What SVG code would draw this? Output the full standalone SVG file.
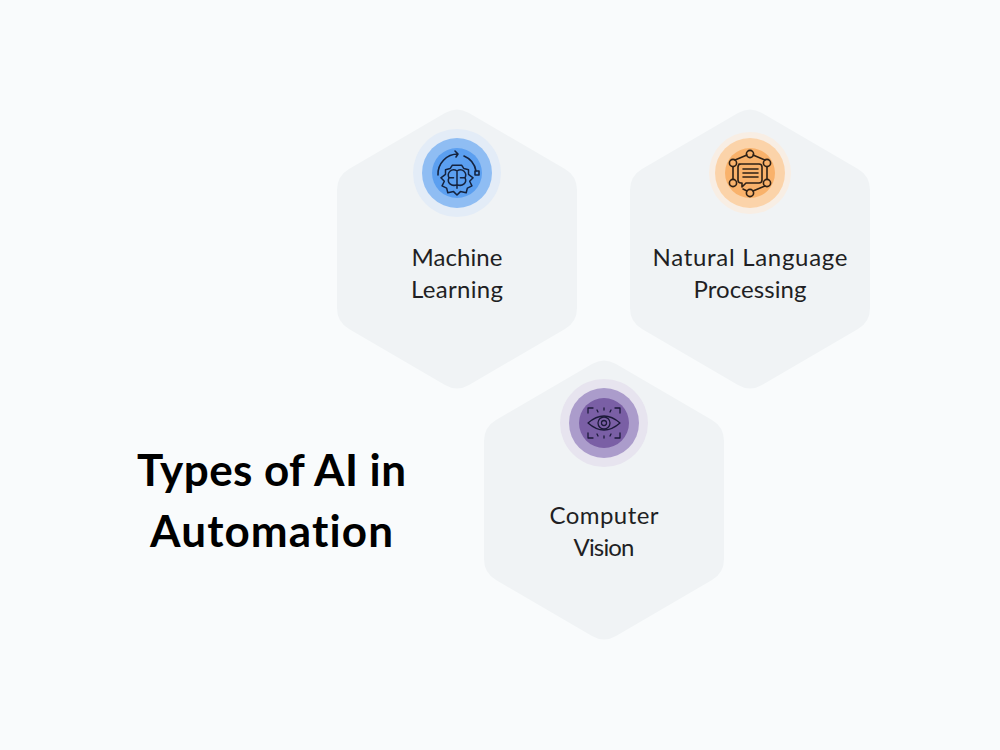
<svg xmlns="http://www.w3.org/2000/svg" width="1000" height="750" viewBox="0 0 1000 750">
<style>
.hex{fill:#f0f3f5}
.lbl{font-family:"Lato","Liberation Sans",sans-serif;font-size:24px;fill:#1f1f24;text-anchor:middle;font-variant-ligatures:none}
.ttl{font-family:"Lato","Liberation Sans",sans-serif;font-size:44px;font-weight:700;fill:#000;text-anchor:middle;font-variant-ligatures:none}
.ic{fill:none;stroke:#15233f;stroke-width:1.600;stroke-linecap:round;stroke-linejoin:round}
</style>
<defs>
<path id="h" class="hex" d="M-12,-136 Q0,-143 12,-136 L108,-80 Q120,-73 120,-59 L120,59 Q120,73 108,80 L12,136 Q0,143 -12,136 L-108,80 Q-120,73 -120,59 L-120,-59 Q-120,-73 -108,-80 Z"/>
</defs>
<rect width="1000" height="750" fill="#f9fbfc"/>
<g id="title"><text class="ttl" x="271.500" y="486" textLength="269">Types of AI in</text><text class="ttl" x="271.500" y="547" textLength="243">Automation</text></g>
<g id="node-ml" transform="translate(457,249)">
<use href="#h"/>
<circle cy="-76" r="44" fill="#e3ecf7"/><circle cy="-76" r="35" fill="#8fbdf3"/><circle cy="-76" r="25" fill="#5b9ff0"/>
<g class="ic" transform="translate(0,-76)">
<path d="M-19,2 A20,20 0 0 1 1,-19 M-1,-16 L1,-19 L-2,-22 M7,-17 A20,20 0 0 1 19,-2"/><rect x="18" y="-2" width="4" height="4"/>
<g transform="translate(0,2.500) scale(1.150)" stroke-width="1.300">
<path d="M0,-9 L4,-9 L6,-6 L10,-5 L10,-1 L14,2 L11,5 L13,9 L9,11 L8,15 L3,14 L0,17 L-3,14 L-8,15 L-9,11 L-13,9 L-11,5 L-14,2 L-10,-1 L-10,-5 L-6,-6 L-4,-9 Z"/>
<path d="M0,-4 V11 M0,-4 C-5,-7 -9,-2 -7,2 C-9,6 -5,10 0,8 M0,-4 C5,-7 9,-2 7,2 C9,6 5,10 0,8 M-7,2 H-3 M7,2 H3"/>
</g>
</g>
<text class="lbl" x="0" y="17" textLength="91">Machine</text><text class="lbl" x="0" y="49" textLength="92">Learning</text>
</g>
<g id="node-nlp" transform="translate(750,249)">
<use href="#h"/>
<circle cy="-76" r="41" fill="#f8eee4"/><circle cy="-76" r="35" fill="#fbd3a9"/><circle cy="-76" r="25" fill="#f9b26b"/>
<g class="ic" transform="translate(0,-76)" style="stroke:#2e2116">
<path d="M-15,-13 L-3,-18 M3,-18 L15,-13 M17,-6 V6 M15,13 L3,18 M-3,18 L-7,16 M-17,-6 V6"/>
<circle cy="-19" r="3.600"/><circle cx="17" cy="-10" r="3.600"/><circle cx="17" cy="10" r="3.600"/><circle cy="20" r="3.600"/><circle cx="-17" cy="10" r="3.600"/><circle cx="-17" cy="-10" r="3.600"/>
<path d="M-11,-9 H9 Q12,-9 12,-6 V7 Q12,10 9,10 H-4 L-8,14 V10 H-9 Q-12,10 -12,7 V-6 Q-12,-9 -9,-9 Z"/>
<path d="M-7,-4 H8 M-7,0 H8 M-7,4 H8"/>
</g>
<text class="lbl" x="0" y="17" textLength="195">Natural Language</text><text class="lbl" x="0" y="49" textLength="113">Processing</text>
</g>
<g id="node-cv" transform="translate(604,500)">
<use href="#h"/>
<circle cy="-77" r="44" fill="#e7e4ef"/><circle cy="-77" r="35" fill="#ab9ccb"/><circle cy="-77" r="25" fill="#7a5fa5"/>
<g class="ic" transform="translate(0,-77)" style="stroke:#1c1a3a;stroke-width:1.300">
<path d="M-16,0 Q0,-14 16,0 Q0,14 -16,0 Z"/><circle r="6"/><circle r="2.500"/>
<path d="M-16,-10 V-15 H-11 M16,-10 V-15 H11 M-16,10 V15 H-11 M16,10 V15 H11"/>
<path d="M0,-15 V-13 M-7,-13 L-6,-11 M7,-13 L6,-11 M0,13 V15 M-7,11 L-6,13 M7,11 L6,13"/>
</g>
<text class="lbl" x="0" y="24" textLength="109">Computer</text><text class="lbl" x="0" y="56" textLength="61">Vision</text>
</g>
<g id="connectors"></g>
</svg>
